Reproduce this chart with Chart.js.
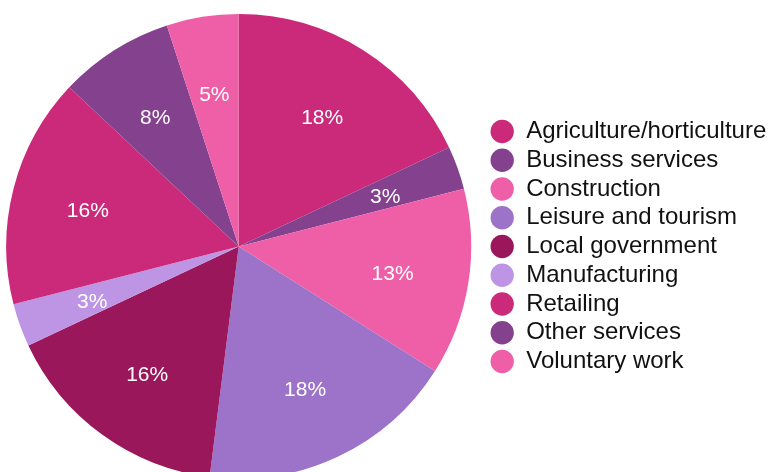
<!DOCTYPE html>
<html lang="en">
<head>
    <meta charset="UTF-8">
    <title>Employment by sector</title>
    <style>
        html, body {
            margin: 0;
            padding: 0;
            width: 772px;
            height: 472px;
            overflow: hidden;
            background: #fff;
        }
        #chart-wrap {
            position: absolute;
            left: -8px;
            top: 0;
            width: 784.25px;
            height: 493px;
        }
    </style>
    <script src="https://cdn.jsdelivr.net/npm/chart.js"></script>
</head>
<body>
    <div id="chart-wrap">
        <canvas id="sectorChart"></canvas>
    </div>

    <script>
        const sectors = [
            'Agriculture/horticulture',
            'Business services',
            'Construction',
            'Leisure and tourism',
            'Local government',
            'Manufacturing',
            'Retailing',
            'Other services',
            'Voluntary work'
        ];
        const shares = [18, 3, 13, 18, 16, 3, 16, 8, 5];
        const sliceColors = [
            '#cb2a7b', '#84428e', '#ef5fa7',
            '#9c73c8', '#9a175b', '#be95e4',
            '#cb2a7b', '#84428e', '#ef5fa7'
        ];

        const fontFamily = '"Liberation Sans", Helvetica, Arial, sans-serif';

        // white percentage text placed two thirds of the way out on each slice
        const percentLabels = {
            id: 'percentLabels',
            afterDatasetsDraw(chart) {
                const ctx = chart.ctx;
                const meta = chart.getDatasetMeta(0);
                ctx.save();
                ctx.font = '21px ' + fontFamily;
                ctx.fillStyle = '#fff';
                ctx.textAlign = 'center';
                ctx.textBaseline = 'middle';
                meta.data.forEach((arc, i) => {
                    const p = arc.getProps(['x', 'y', 'startAngle', 'endAngle', 'outerRadius'], true);
                    const mid = (p.startAngle + p.endAngle) / 2;
                    const r = p.outerRadius * 0.67;
                    // nudge down a little so the digits sit centred on the point
                    ctx.fillText(shares[i] + '%', p.x + Math.cos(mid) * r, p.y + Math.sin(mid) * r + 3);
                });
                ctx.restore();
            }
        };

        new Chart(document.getElementById('sectorChart'), {
            type: 'pie',
            data: {
                labels: sectors,
                datasets: [{
                    data: shares,
                    backgroundColor: sliceColors,
                    borderWidth: 0
                }]
            },
            options: {
                responsive: true,
                maintainAspectRatio: false,
                animation: false,
                radius: 232.5,
                layout: { padding: 0 },
                plugins: {
                    legend: {
                        position: 'right',
                        labels: {
                            usePointStyle: true,
                            pointStyle: 'circle',
                            boxHeight: 16.5,
                            padding: 4.75,
                            color: '#111',
                            font: { family: fontFamily, size: 24 }
                        }
                    },
                    tooltip: { enabled: false }
                }
            },
            plugins: [percentLabels]
        });
    </script>
</body>
</html>
